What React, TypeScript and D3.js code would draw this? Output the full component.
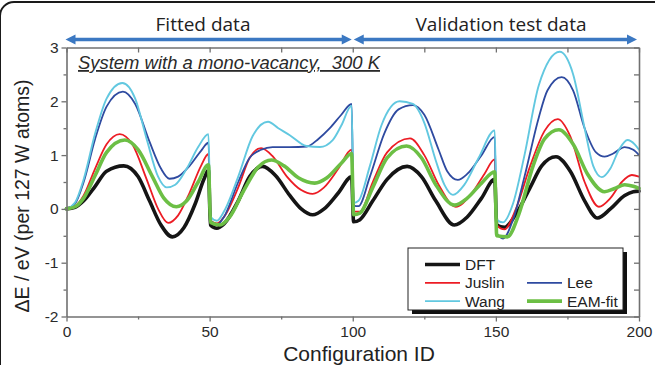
import React, { useEffect, useRef } from "react";
import * as d3 from "d3";

const W = 655;
const H = 365;

const xDomain = [0, 200];
const yDomain = [-2, 3];
const xMajorTicks = [0, 50, 100, 150, 200];
const xMinorTicks = [25, 75, 125, 175];
const yMajorTicks = [-2, -1, 0, 1, 2, 3];
const yMinorTicks = [-1.5, -0.5, 0.5, 1.5, 2.5];

const dft: [number, number][] = [
  [0, 0], [3, 0.03], [6, 0.15], [10, 0.42], [14, 0.7], [20, 0.8], [25, 0.6], [29, 0.15], [33, -0.3], [37, -0.52],
  [41, -0.35], [45, 0.1], [48, 0.55], [49.6, 0.72], [50.3, -0.3], [52.5, -0.36], [55, -0.28], [60, 0.15], [64, 0.6],
  [68.5, 0.79], [73, 0.62], [78, 0.25], [82, 0.0], [86, -0.11], [90, 0.0], [95, 0.3], [99.6, 0.6], [100.3, -0.24],
  [102.5, -0.2], [107, 0.15], [112, 0.55], [119, 0.79], [124, 0.6], [129, 0.15], [135.5, -0.3], [140, -0.15],
  [145, 0.2], [149.6, 0.55], [150.3, -0.3], [153, -0.34], [157, -0.1], [162, 0.4], [166, 0.8], [171, 0.97],
  [176, 0.7], [181, 0.15], [185.5, -0.17], [190, 0.0], [195, 0.25], [198, 0.32], [200, 0.33],
];

const juslin: [number, number][] = [
  [0, 0], [3, 0.05], [6, 0.25], [10, 0.75], [14, 1.2], [18.6, 1.39], [23, 1.2], [28, 0.55], [32, 0.0], [35.5, -0.26],
  [39, -0.12], [43, 0.3], [47, 0.8], [49.6, 1.02], [50.3, -0.22], [52.5, -0.27], [55, -0.15], [60, 0.4], [64, 0.95],
  [68, 1.13], [72, 0.98], [77, 0.6], [82, 0.35], [86, 0.28], [90, 0.4], [95, 0.75], [99.6, 1.1], [100.3, -0.05],
  [102.5, -0.05], [107, 0.5], [112, 1.05], [120, 1.31], [125, 1.0], [130, 0.45], [136, 0.04], [141, 0.25],
  [146, 0.65], [149.6, 0.92], [150.3, -0.3], [153, -0.38], [157, 0.0], [162, 0.8], [167, 1.45], [171.6, 1.67],
  [176, 1.35], [181, 0.5], [186, 0.04], [190, 0.2], [194, 0.5], [197.5, 0.63], [200, 0.6],
];

const lee: [number, number][] = [
  [0, 0], [3, 0.1], [6, 0.5], [10, 1.3], [14, 1.9], [19.7, 2.18], [24, 1.95], [29, 1.25], [33, 0.75], [36, 0.56],
  [39, 0.6], [43, 0.8], [47, 1.08], [49.6, 1.23], [50.3, -0.2], [52.5, -0.3], [55, -0.15], [60, 0.5], [64, 0.95],
  [68, 1.1], [72, 1.15], [78, 1.15], [84, 1.16], [88, 1.3], [92, 1.5], [96, 1.75], [99.6, 1.95], [100.3, 0.06],
  [102, 0.05], [106, 0.6], [111, 1.4], [116, 1.85], [121, 1.93], [125, 1.75], [130, 1.1], [133, 0.7], [136.7, 0.54],
  [140, 0.65], [145, 1.0], [149.6, 1.34], [150.3, -0.45], [152.5, -0.55], [156, -0.2], [160, 0.6], [165, 1.7],
  [168, 2.2], [173, 2.45], [177, 2.2], [181, 1.5], [185, 1.05], [188, 0.97], [191, 1.03], [195, 1.15], [198, 1.1],
  [200, 1.0],
];

const wang: [number, number][] = [
  [0, 0], [3, 0.12], [6, 0.55], [10, 1.4], [14, 2.05], [19.5, 2.34], [24, 2.05], [28, 1.3], [32, 0.6], [35, 0.4],
  [38, 0.45], [42, 0.75], [46, 1.15], [49.6, 1.39], [50.3, -0.15], [52.5, -0.22], [55, -0.05], [60, 0.6], [65, 1.35],
  [70.4, 1.62], [74, 1.5], [78, 1.37], [83.8, 1.17], [88.5, 1.15], [93, 1.28], [96, 1.55], [99.6, 1.92],
  [100.3, 0.11], [102, 0.15], [106, 0.8], [110, 1.55], [116.4, 2.0], [121, 1.95], [125, 1.6], [129, 0.9],
  [132, 0.45], [135, 0.26], [139, 0.45], [144, 0.95], [149.6, 1.46], [150.3, -0.2], [152.5, -0.25], [156, 0.1],
  [160, 1.0], [165, 2.3], [172.3, 2.92], [177, 2.5], [181, 1.5], [184, 0.8], [187, 0.59], [190, 0.75], [193, 1.1],
  [196, 1.28], [198.5, 1.2], [200, 1.1],
];

const eamFit: [number, number][] = [
  [0, 0], [3, 0.04], [6, 0.2], [10, 0.62], [14, 1.05], [20.4, 1.28], [25, 1.1], [30, 0.6], [34, 0.2], [38.4, 0.04],
  [42, 0.15], [46, 0.5], [49.6, 0.82], [50.3, -0.25], [53.6, -0.3], [57, -0.15], [62, 0.35], [67, 0.78], [71.6, 0.91],
  [76, 0.8], [81, 0.58], [86.7, 0.48], [91, 0.58], [96, 0.85], [99.6, 1.03], [100.3, -0.11], [102.5, -0.08],
  [107, 0.4], [112, 0.95], [118.8, 1.17], [124, 0.95], [129, 0.45], [135.6, 0.07], [140, 0.2], [145, 0.48],
  [149.6, 0.69], [150.3, -0.5], [154, -0.52], [158, -0.1], [163, 0.8], [167, 1.3], [172, 1.47], [177, 1.2],
  [182, 0.65], [188, 0.32], [191.5, 0.38], [195, 0.45], [198, 0.42], [200, 0.38],
];

const seriesNames = ["DFT", "Juslin", "Lee", "Wang", "EAM-fit"];
const regionLabels = ["Fitted data", "Validation test data"];
const subtitle = "System with a mono-vacancy,  300 K";
const xTitle = "Configuration ID";
const yTitle = "ΔE / eV (per 127 W atoms)";

const seriesStyle = [
  { data: dft, color: "#151515", width: 3.6 },
  { data: juslin, color: "#ec1c24", width: 1.8 },
  { data: lee, color: "#2e4aa0", width: 1.8 },
  { data: wang, color: "#62c8e0", width: 1.9 },
  { data: eamFit, color: "#6cbf45", width: 3.6 },
];

const drawOrder = [0, 1, 2, 3, 4];

const PLOT = { left: 66.5, right: 639, top: 47.5, bottom: 316.5 };
const AXIS_COLOR = "#707070";
const ARROW_COLOR = "#3b78c2";
const FONT = "'Liberation Sans', Arial, sans-serif";

export default function App() {
  const axesRef = useRef<SVGGElement>(null);

  const x = d3.scaleLinear().domain(xDomain).range([PLOT.left, PLOT.right]);
  const y = d3.scaleLinear().domain(yDomain).range([PLOT.bottom, PLOT.top]);

  useEffect(() => {
    const g = d3.select(axesRef.current);
    g.selectAll("*").remove();
    const style = (sel: any) => {
      sel.selectAll(".domain").attr("stroke", AXIS_COLOR).attr("stroke-width", 1.6);
      sel.selectAll(".tick line").attr("stroke", AXIS_COLOR).attr("stroke-width", 1.3);
      sel.selectAll(".tick text")
        .attr("fill", "#2a2a2a")
        .style("font-family", FONT)
        .style("font-size", "15.5px");
    };
    const noLabel = () => "";

    // bottom
    const b = g.append("g").attr("transform", `translate(0,${PLOT.bottom})`)
      .call(d3.axisBottom(x).tickValues(xMajorTicks).tickSize(5).tickSizeOuter(0).tickPadding(4).tickFormat(d3.format("d")) as any);
    style(b);
    const bm = g.append("g").attr("transform", `translate(0,${PLOT.bottom})`)
      .call(d3.axisBottom(x).tickValues(xMinorTicks).tickSize(3).tickFormat(noLabel as any) as any);
    bm.select(".domain").remove();
    style(bm);

    // left
    const l = g.append("g").attr("transform", `translate(${PLOT.left},0)`)
      .call(d3.axisLeft(y).tickValues(yMajorTicks).tickSize(5).tickSizeOuter(0).tickPadding(3)
        .tickFormat((d: any) => (d < 0 ? "-" + Math.abs(d) : String(d))) as any);
    style(l);
    const lm = g.append("g").attr("transform", `translate(${PLOT.left},0)`)
      .call(d3.axisLeft(y).tickValues(yMinorTicks).tickSize(3).tickFormat(noLabel as any) as any);
    lm.select(".domain").remove();
    style(lm);

    // top (inward)
    const t = g.append("g").attr("transform", `translate(0,${PLOT.top})`)
      .call(d3.axisTop(x).tickValues([...xMajorTicks, ...xMinorTicks]).tickSize(-5).tickSizeOuter(0).tickFormat(noLabel as any) as any);
    style(t);

    // right (inward)
    const r = g.append("g").attr("transform", `translate(${PLOT.right},0)`)
      .call(d3.axisRight(y).tickValues([...yMajorTicks, ...yMinorTicks]).tickSize(-5).tickSizeOuter(0).tickFormat(noLabel as any) as any);
    style(r);
  }, []);

  const line = d3.line<[number, number]>()
    .x((d) => x(d[0]))
    .y((d) => y(d[1]))
    .curve(d3.curveMonotoneX);

  const arrowY = 39.5;
  const arrowHead = (tipX: number, dir: number) => {
    const len = 10;
    const hw = 5;
    return `M${tipX},${arrowY} L${tipX - dir * len},${arrowY - hw} L${tipX - dir * len},${arrowY + hw} Z`;
  };
  const arrowSegs = [
    [x(0) - 1, x(100) - 1],
    [x(100) + 1, x(200) - 2],
  ];

  // legend
  const lg = { x: 408, y: 248, w: 215, h: 62 };
  const legendItems = [
    { i: 0, col: 0, row: 0 },
    { i: 1, col: 0, row: 1 },
    { i: 2, col: 1, row: 1 },
    { i: 3, col: 0, row: 2 },
    { i: 4, col: 1, row: 2 },
  ];

  return (
    <svg width={W} height={H} style={{ position: "absolute", left: 0, top: 0, background: "#fff" }}>
      <rect x={0} y={2} width={W + 60} height={H + 60} rx={14} fill="#fff" stroke="#1a1a1a" strokeWidth={2} />

      {/* region arrows */}
      {arrowSegs.map(([a, b], k) => (
        <g key={k} fill={ARROW_COLOR}>
          <line x1={a + 6} x2={b - 6} y1={arrowY} y2={arrowY} stroke={ARROW_COLOR} strokeWidth={3.5} />
          <path d={arrowHead(a, -1)} />
          <path d={arrowHead(b, 1)} />
        </g>
      ))}
      <text x={203} y={31} textAnchor="middle" fontFamily="'Open Sans', sans-serif" fontSize={19} fill="#222">
        {regionLabels[0]}
      </text>
      <text x={501} y={31} textAnchor="middle" fontFamily="'Open Sans', sans-serif" fontSize={19} fill="#222">
        {regionLabels[1]}
      </text>

      {/* series */}
      {drawOrder.map((i) => (
        <path key={i} d={line(seriesStyle[i].data) || ""} fill="none" stroke={seriesStyle[i].color}
          strokeWidth={seriesStyle[i].width} strokeLinejoin="round" strokeLinecap="round" />
      ))}

      <g ref={axesRef} />

      {/* subtitle */}
      <text x={78} y={69} fontFamily={FONT} fontStyle="italic" fontSize={18} fill="#2a2a2a"
        textDecoration="underline" textLength={302} lengthAdjust="spacingAndGlyphs" style={{ whiteSpace: "pre" }}>
        {subtitle}
      </text>

      {/* axis titles */}
      <text x={359} y={361} textAnchor="middle" fontFamily={FONT} fontSize={21} fill="#222">
        {xTitle}
      </text>
      <text transform={`translate(29,${196}) rotate(-90)`} textAnchor="middle" fontFamily={FONT} fontSize={19.5} fill="#222">
        {yTitle}
      </text>

      {/* legend */}
      <rect x={lg.x + 4} y={lg.y + 4} width={lg.w} height={lg.h} fill="#111" />
      <rect x={lg.x} y={lg.y} width={lg.w} height={lg.h} fill="#fff" stroke="#222" strokeWidth={1} />
      {legendItems.map(({ i, col, row }) => {
        const lx = lg.x + 17 + col * 102;
        const ly = lg.y + 16.5 + row * 18.3;
        return (
          <g key={i}>
            <line x1={lx} x2={lx + 35} y1={ly} y2={ly} stroke={seriesStyle[i].color}
              strokeWidth={seriesStyle[i].width} />
            <text x={lx + 40} y={ly + 5.5} fontFamily={FONT} fontSize={15.5} fill="#222">
              {seriesNames[i]}
            </text>
          </g>
        );
      })}
    </svg>
  );
}
